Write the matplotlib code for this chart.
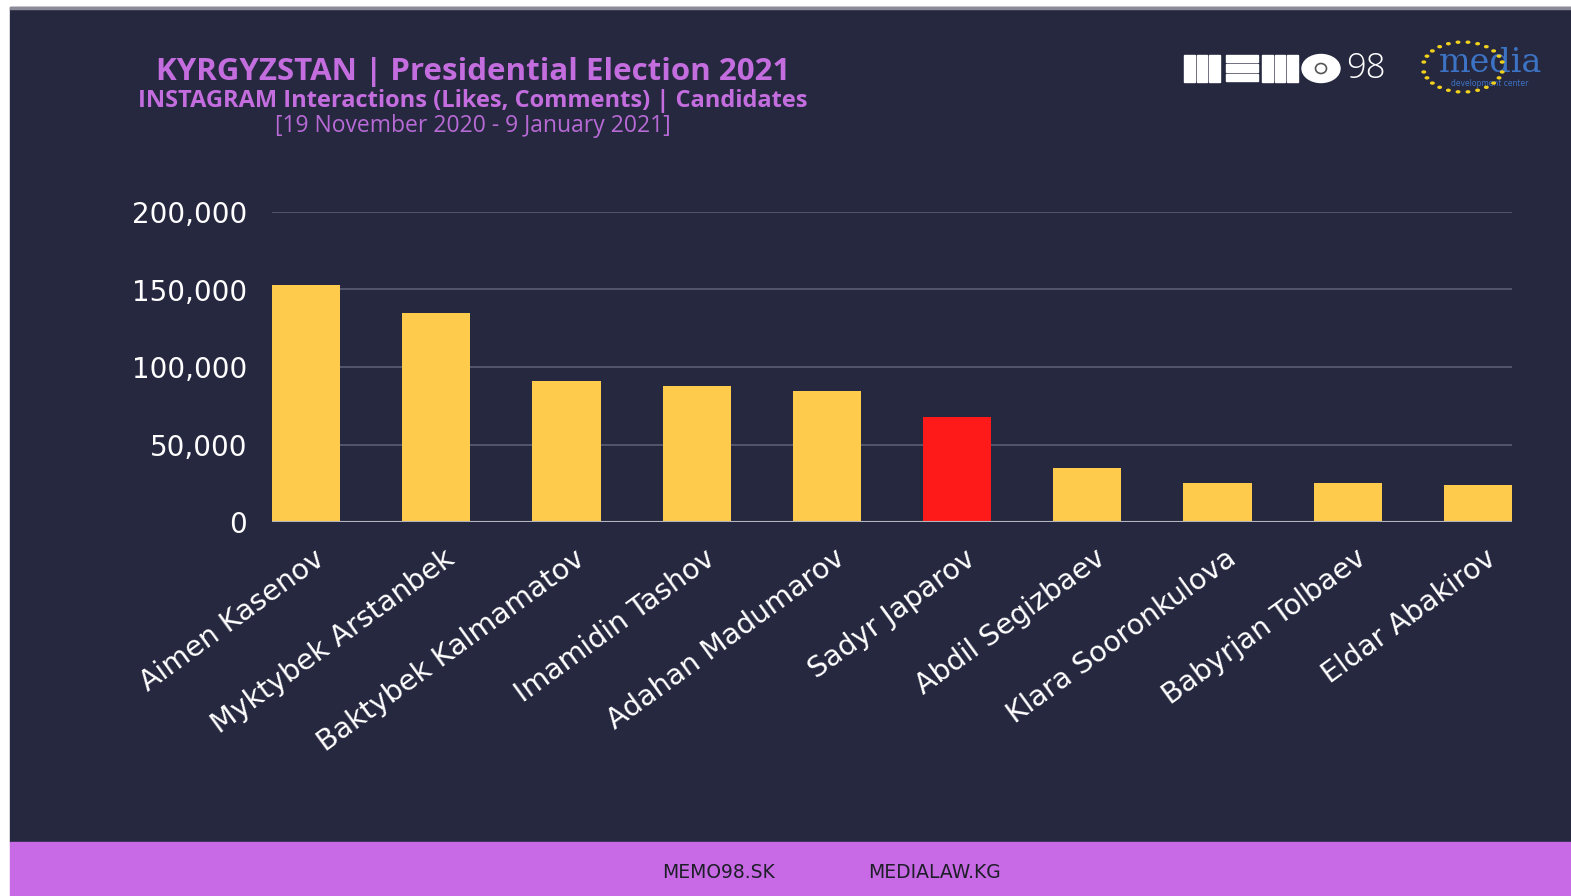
import numpy as np
import matplotlib
matplotlib.use("Agg")
import matplotlib.pyplot as plt
from matplotlib.patches import Rectangle, Circle, Ellipse
from matplotlib.ticker import FuncFormatter
import matplotlib.transforms as mtransforms

candidates = ["Aimen Kasenov", "Myktybek Arstanbek", "Baktybek Kalmamatov",
              "Imamidin Tashov", "Adahan Madumarov", "Sadyr Japarov",
              "Abdil Segizbaev", "Klara Sooronkulova", "Babyrjan Tolbaev",
              "Eldar Abakirov"]
interactions = [153000, 134900, 91100, 87500, 84300, 67700, 34700, 25400, 25200, 24100]
highlight = "Sadyr Japarov"
y_ticks = [0, 50000, 100000, 150000, 200000]

BG = "#262840"
YELLOW = "#fecb4c"
RED = "#ff1a1a"
PURPLE = "#c86ae6"
TITLE = "#c46ddf"

W, H = 1571, 896
fig = plt.figure(figsize=(W / 100, H / 100), dpi=100, facecolor="white")

def fx(px):
    return px / W

def fy(py):
    return 1 - py / H

# background panels (behind the axes)
fig.patches.append(Rectangle((fx(10), fy(842)), 1 - fx(10), fy(7) - fy(842),
                             transform=fig.transFigure, color=BG, zorder=-10))
fig.patches.append(Rectangle((fx(10), fy(7) - 0.002), 1 - fx(10), 0.002,
                             transform=fig.transFigure, color="#8a8a98", zorder=-10))
fig.patches.append(Rectangle((fx(10), 0), 1 - fx(10), fy(842),
                             transform=fig.transFigure, color=PURPLE, zorder=-10))

# chart
ax = fig.add_axes([fx(272), fy(522), fx(1512) - fx(272), fy(212) - fy(522)])
ax.set_facecolor("none")
x = np.arange(len(candidates))
bw = 68 / 130
colors = [RED if c == highlight else YELLOW for c in candidates]
ax.bar(x, interactions, width=bw, color=colors, zorder=3)
ax.set_xlim(-bw / 2, len(candidates) - 1 + bw / 2)
ax.set_ylim(0, 200000)
ax.set_yticks(y_ticks)
ax.yaxis.set_major_formatter(FuncFormatter(lambda v, p: f"{int(v):,}"))
ax.yaxis.grid(True, color="#5c5d72", lw=1.2, zorder=0)
ax.axhline(0, color="#b4b4bc", lw=1.5, zorder=4)
for s in ax.spines.values():
    s.set_visible(False)
ax.tick_params(axis="y", length=0, pad=18, labelsize=20, labelcolor="white")
ax.tick_params(axis="x", length=0, pad=6, labelsize=20.5, labelcolor="white")
ax.set_xticks(x)
ax.set_xticklabels(candidates, rotation=36, ha="right", rotation_mode="anchor",
                   va="top")
off = mtransforms.ScaledTranslation(7 / 100, -14 / 100, fig.dpi_scale_trans)
for lab in ax.get_xticklabels():
    lab.set_transform(lab.get_transform() + off)

# titles
fig.text(fx(473), fy(72), "KYRGYZSTAN | Presidential Election 2021", ha="center",
         va="center", color=TITLE, fontsize=22.5, fontweight="bold", family="Open Sans")
fig.text(fx(473), fy(101), "INSTAGRAM Interactions (Likes, Comments) | Candidates",
         ha="center", va="center", color=TITLE, fontsize=17, fontweight="bold",
         family="Open Sans")
fig.text(fx(473), fy(126), "[19 November 2020 - 9 January 2021]", ha="center",
         va="center", color="#b86ad6", fontsize=16.5, family="Open Sans")

# footer
fig.text(fx(719), fy(872), "MEMO98.SK", ha="center", va="center", color="#1e1e28",
         fontsize=13.5, family="DejaVu Sans")
fig.text(fx(935), fy(872), "MEDIALAW.KG", ha="center", va="center", color="#1e1e28",
         fontsize=13.5, family="DejaVu Sans")

# MEMO98 logo
def block(x0, x1, y0, y1):
    fig.patches.append(Rectangle((fx(x0), fy(y1)), fx(x1) - fx(x0), fy(y0) - fy(y1),
                                 transform=fig.transFigure, color="white", zorder=5))

for gx in (1184, 1262):
    for i in range(3):
        block(gx + i * 12.5, gx + i * 12.5 + 10.5, 55, 82)
for i in range(3):
    block(1226, 1258, 55 + i * 9.3, 55 + i * 9.3 + 7.5)
cx, cy = 1321, 68.5
fig.patches.append(Ellipse((fx(cx), fy(cy)), fx(38), 28 / H, transform=fig.transFigure,
                           color="white", zorder=5))
fig.patches.append(Ellipse((fx(cx), fy(cy)), fx(11), 10 / H, transform=fig.transFigure,
                           facecolor="white", edgecolor="#555", lw=1.2, zorder=6))
fig.text(fx(1366), fy(69), "98", ha="center", va="center", color="white",
         fontsize=25, family="Open Sans", fontweight="light")

# media development center logo
t = np.linspace(0.2, np.pi - 0.2, 12)
for tt in t:
    for sgn in (1, -1):
        fig.patches.append(Circle((fx(1463 + 40 * np.cos(tt)), fy(67 - sgn * 25 * np.sin(tt))),
                                  0.0011, transform=fig.transFigure, color="#f2d21c",
                                  zorder=5))
fig.text(fx(1490), fy(63), "media", ha="center", va="center", color="#3d73c4",
         fontsize=24, family="DejaVu Serif")
fig.text(fx(1490), fy(83), "development center", ha="center", va="center",
         color="#3d73c4", fontsize=5.5, family="DejaVu Sans")

fig.savefig("out.png", dpi=100, facecolor=fig.get_facecolor())
